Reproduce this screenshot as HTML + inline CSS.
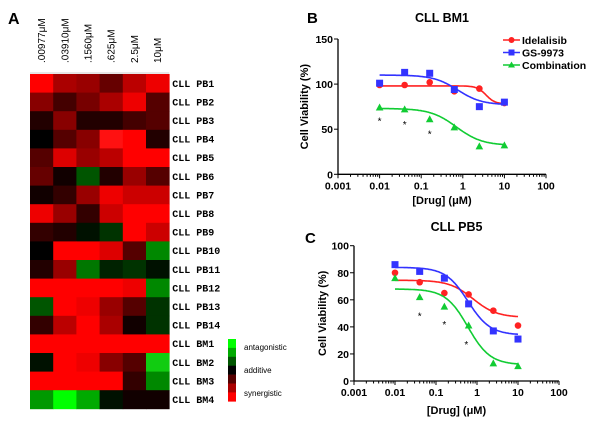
<!DOCTYPE html>
<html><head><meta charset="utf-8"><style>
body{margin:0;background:#fff;width:600px;height:425px;overflow:hidden}
svg{font-family:"Liberation Sans",Arial,sans-serif}
</style></head><body>
<svg id="fig" width="600" height="425" viewBox="0 0 600 425">
<text x="8" y="24" font-size="16" font-weight="bold">A</text>
<text x="307" y="23" font-size="15" font-weight="bold">B</text>
<text x="305" y="243" font-size="15" font-weight="bold">C</text>
<g id="heat"></g>
<g id="legendbar"></g>
<g id="chartB"></g>
<g id="chartC"></g>
</svg>
<script>
const NS='http://www.w3.org/2000/svg';
function mk(p,t,a){const e=document.createElementNS(NS,t);for(const k in a)e.setAttribute(k,a[k]);p.appendChild(e);return e;}

// ---------- Heatmap data ----------
const heatCols=['.00977μM','.03910μM','.1560μM','.625μM','2.5μM','10μM'];
const heatRows=['CLL PB1','CLL PB2','CLL PB3','CLL PB4','CLL PB5','CLL PB6','CLL PB7','CLL PB8','CLL PB9','CLL PB10','CLL PB11','CLL PB12','CLL PB13','CLL PB14','CLL BM1','CLL BM2','CLL BM3','CLL BM4'];
const heatColors=[
['#f00','#a00','#900','#600','#b00','#e00'],
['#800','#400','#700','#a00','#e00','#500'],
['#200','#800','#200','#200','#400','#500'],
['#000','#500','#800','#f11','#f00','#200'],
['#500','#d00','#900','#b00','#f00','#f00'],
['#600','#100','#050','#200','#900','#500'],
['#100','#300','#900','#e00','#c00','#c00'],
['#e00','#900','#300','#c00','#f00','#f00'],
['#300','#200','#010','#030','#f00','#c00'],
['#000','#f00','#f00','#d00','#500','#080'],
['#200','#900','#070','#020','#030','#010'],
['#f00','#f00','#f00','#f00','#e00','#080'],
['#050','#f00','#e00','#900','#500','#030'],
['#300','#b00','#f00','#a00','#100','#030'],
['#f00','#f00','#f00','#f00','#f00','#f00'],
['#010','#f00','#e00','#800','#500','#1c1'],
['#f00','#f00','#f00','#f00','#300','#080'],
['#090','#0f0','#0a0','#010','#100','#100']];

(function(){
 const g=document.getElementById('heat');
 const x0=30,y0=74,cw=23.2,rh=18.6;
 mk(g,'line',{x1:x0,y1:y0-1,x2:x0+cw*6,y2:y0-1,stroke:'#ccc','stroke-width':1});
 heatRows.forEach((r,i)=>{
  heatColors[i].forEach((c,j)=>{
   const e=mk(g,'rect',{x:x0+j*cw,y:y0+i*rh,width:cw+0.4,height:rh+0.4,fill:c});
   
   
  });
  const t=mk(g,'text',{x:x0+cw*6+3,y:y0+i*rh+rh/2+3.5,'font-size':10,'font-weight':'bold','font-family':'"Liberation Mono",monospace'});
  t.textContent=r;
  
  
 });
 heatCols.forEach((c,j)=>{
  const cx=x0+j*cw+cw/2+3.5;
  const t=mk(g,'text',{x:cx,y:63,'font-size':10,transform:`rotate(-90 ${cx} 63)`});
  t.textContent=c;
  
  
 });
 const lg=document.getElementById('legendbar');
 const lc=['#0f0','#0a0','#050','#000','#500','#a00','#f00'];
 lc.forEach((c,i)=>{const e=mk(lg,'rect',{x:228,y:339+i*8.9,width:8,height:9.2,fill:c});
  });
 [['antagonistic',350],['additive',373],['synergistic',396]].forEach(([s,y])=>{
  const t=mk(lg,'text',{x:244,y:y,'font-size':8});t.textContent=s;
  });
})();

// ---------- Dose-response data ----------
const doses=[0.01,0.04,0.16,0.625,2.5,10];
const xTicks=[0.001,0.01,0.1,1,10,100];
const xTickLabels=['0.001','0.01','0.1','1','10','100'];
const seriesNames=['Idelalisib','GS-9973','Combination'];
const seriesColors=['#f22','#33f','#1c3'];
// CLL BM1
const bm1Idelalisib=[99,99,102,92,95,79];
const bm1GS=[101,113,112,94,75,80];
const bm1Combo=[74,72,61,52,31,32];
const bm1StarDoses=[0.01,0.04,0.16];
const bm1StarVals=[61,57,46.5];
const bm1Fits=[[98,78,3.6,4],[110,77,0.75,1.5],[73,32,0.7,1.4]]; // top,bottom,EC50,hill
const bm1YTicks=[0,50,100,150];
// CLL PB5
const pb5Idelalisib=[80,73,65,64,52,41];
const pb5GS=[86,81,76,57,37,31];
const pb5Combo=[76,62,55,41,13,11];
const pb5StarDoses=[0.04,0.16,0.55];
const pb5StarVals=[49,43,28];
const pb5Fits=[[74.5,47,0.8,1.5],[84,34,0.6,1.6],[68,12,0.6,1.6]];
const pb5YTicks=[0,20,40,60,80,100];

function drawChart(g,cfg){
 const {x0,x1,yTop,yBot,ymax,title,titleY,yLabX,xLabY,legend}=cfg;
 const lx=v=>x0+(Math.log10(v)+3)/5*(x1-x0);
 const ly=v=>yBot-(v/ymax)*(yBot-yTop);
 let t=mk(g,'text',{x:(x0+x1)/2,y:titleY,'font-size':12.5,'font-weight':'bold','text-anchor':'middle'});t.textContent=title;
 
 mk(g,'line',{x1:x0,y1:yTop,x2:x0,y2:yBot,stroke:'#000','stroke-width':1.3});
 mk(g,'line',{x1:x0,y1:yBot,x2:x1,y2:yBot,stroke:'#000','stroke-width':1.3});
 cfg.yTicks.forEach(v=>{mk(g,'line',{x1:x0-4,y1:ly(v),x2:x0,y2:ly(v),stroke:'#000'});
  const e=mk(g,'text',{x:x0-5,y:ly(v)+4,'font-size':10.5,'font-weight':'bold','text-anchor':'end'});e.textContent=v;
  });
 xTicks.forEach((v,i)=>{mk(g,'line',{x1:lx(v),y1:yBot,x2:lx(v),y2:yBot+4,stroke:'#000'});
  const e=mk(g,'text',{x:lx(v),y:yBot+15,'font-size':10.5,'font-weight':'bold','text-anchor':'middle'});e.textContent=xTickLabels[i];
  
  if(i<xTicks.length-1)for(let k=2;k<10;k++)mk(g,'line',{x1:lx(v*k),y1:yBot,x2:lx(v*k),y2:yBot+2.5,stroke:'#000'});});
 const yl=(yTop+yBot)/2;
 t=mk(g,'text',{x:yLabX,y:yl,'font-size':11,'font-weight':'bold','text-anchor':'middle',transform:`rotate(-90 ${yLabX} ${yl})`});t.textContent='Cell Viability (%)';
 
 t=mk(g,'text',{x:(x0+x1)/2,y:xLabY,'font-size':11,'font-weight':'bold','text-anchor':'middle'});t.textContent='[Drug] (μM)';
 
 cfg.series.forEach((vals,s)=>{
  const [top,bot,ec,h]=cfg.fits[s];let d='';
  for(let lv=-2;lv<=1.001;lv+=0.02){const x=Math.pow(10,lv);const y=bot+(top-bot)/(1+Math.pow(x/ec,h));d+=(d?'L':'M')+lx(x).toFixed(1)+','+ly(y).toFixed(1);}
  const p=mk(g,'path',{d:d,fill:'none',stroke:seriesColors[s],'stroke-width':1.6});
  
  vals.forEach((v,i)=>{const cx=lx(doses[i]),cy=ly(v);let m;
   if(s===0)m=mk(g,'circle',{cx:cx,cy:cy,r:3.3,fill:seriesColors[s]});
   else if(s===1)m=mk(g,'rect',{x:cx-3.5,y:cy-3.5,width:7,height:7,fill:seriesColors[s]});
   else m=mk(g,'path',{d:`M${cx},${cy-4}L${cx+3.8},${cy+3}L${cx-3.8},${cy+3}Z`,fill:seriesColors[s]});
   });
 });
 cfg.starD.forEach((dd,i)=>{const e=mk(g,'text',{x:lx(dd),y:ly(cfg.starV[i])+5,'font-size':10,'text-anchor':'middle'});e.textContent='*';
  });
 if(legend){seriesNames.forEach((n,s)=>{const y=legend.y+s*12.5;
  mk(g,'line',{x1:legend.x,y1:y,x2:legend.x+17,y2:y,stroke:seriesColors[s],'stroke-width':1.6});
  const cx=legend.x+8.5;
  if(s===0)mk(g,'circle',{cx:cx,cy:y,r:3,fill:seriesColors[s]});
  else if(s===1)mk(g,'rect',{x:cx-3,y:y-3,width:6,height:6,fill:seriesColors[s]});
  else mk(g,'path',{d:`M${cx},${y-3.5}L${cx+3.5},${y+2.5}L${cx-3.5},${y+2.5}Z`,fill:seriesColors[s]});
  const e=mk(g,'text',{x:legend.x+19,y:y+4,'font-size':10.5,'font-weight':'bold'});e.textContent=n;
  });}
}
drawChart(document.getElementById('chartB'),{x0:338,x1:546,yTop:39,yBot:174.3,ymax:150,title:'CLL BM1',titleY:22,yLabX:308,xLabY:204,
 yTicks:bm1YTicks,series:[bm1Idelalisib,bm1GS,bm1Combo],fits:bm1Fits,starD:bm1StarDoses,starV:bm1StarVals,legend:{x:503,y:40}});
drawChart(document.getElementById('chartC'),{x0:354,x1:559,yTop:245.7,yBot:381,ymax:100,title:'CLL PB5',titleY:231,yLabX:326,xLabY:414,
 yTicks:pb5YTicks,series:[pb5Idelalisib,pb5GS,pb5Combo],fits:pb5Fits,starD:pb5StarDoses,starV:pb5StarVals,legend:null});
</script>
</body></html>
